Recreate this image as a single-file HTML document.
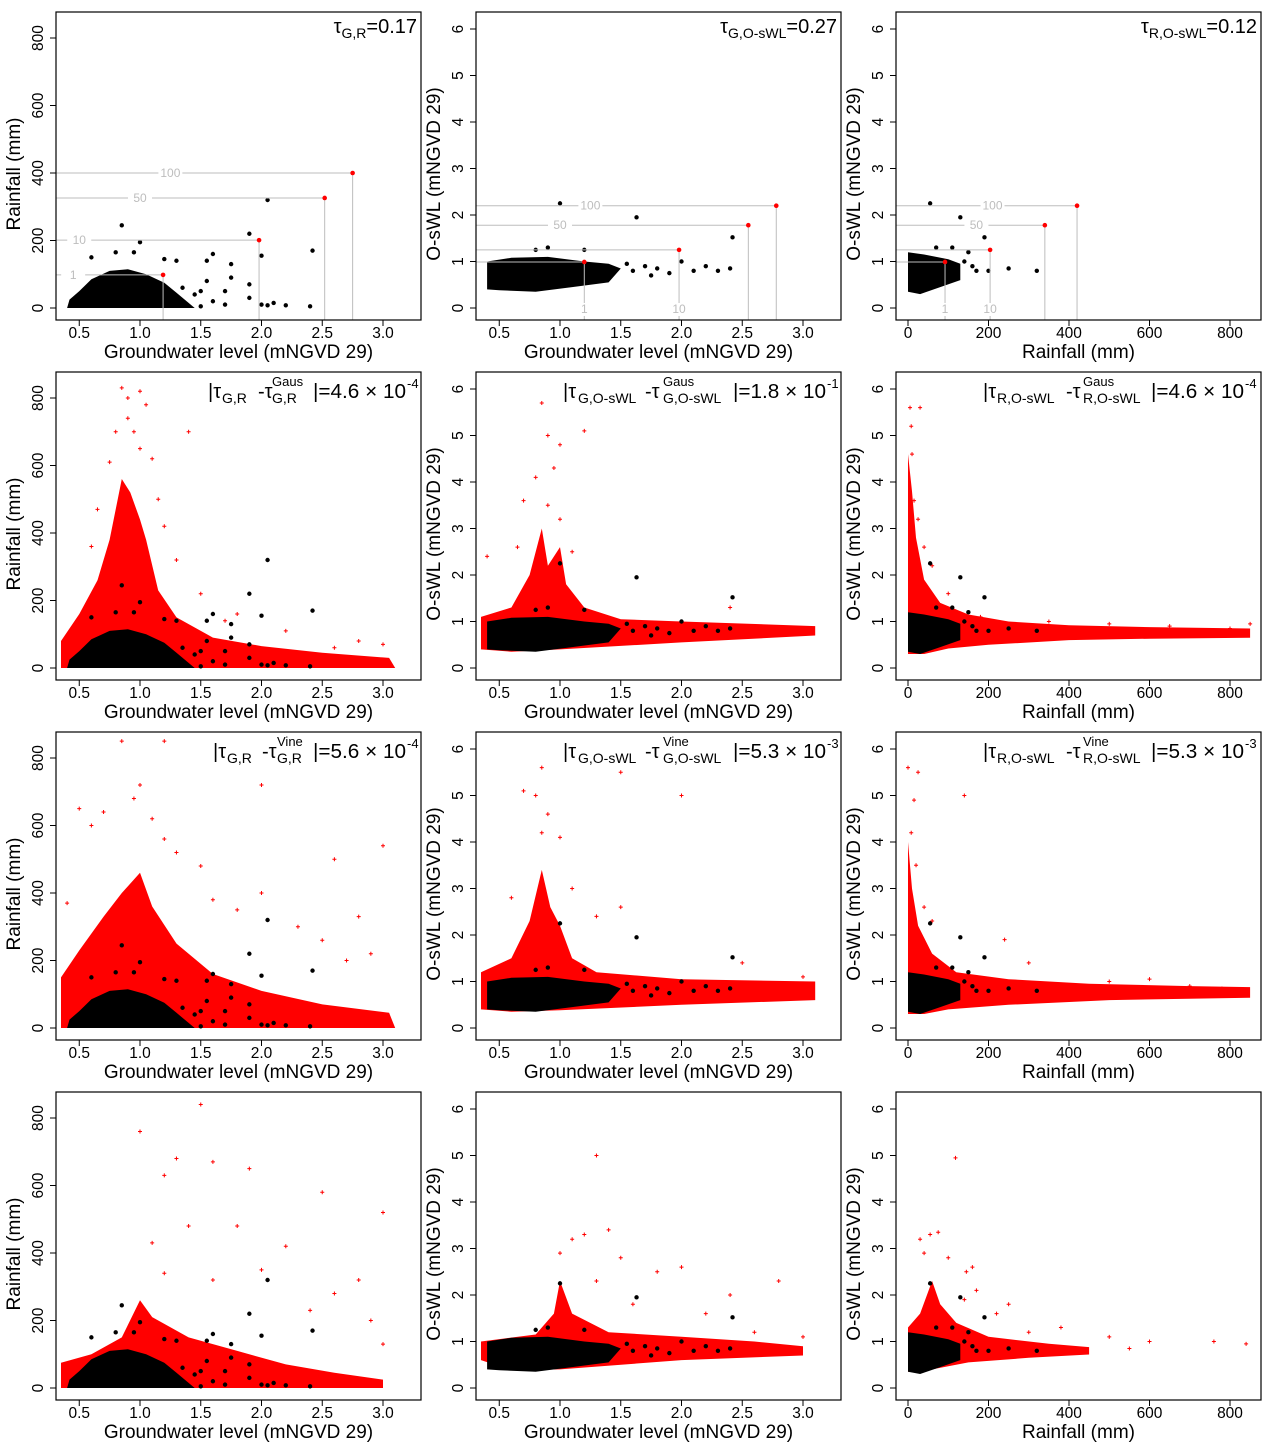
<!DOCTYPE html>
<html><head><meta charset="utf-8"><style>
body{margin:0;background:#fff}
svg{display:block;font-family:"Liberation Sans",Arial,sans-serif}
</style></head><body>
<svg id="c" width="1274" height="1455" viewBox="0 0 1274 1455" xmlns="http://www.w3.org/2000/svg"></svg>
<script>
// ---------- data ----------
const gTicks=[0.5,1.0,1.5,2.0,2.5,3.0];
const gTickLabels=["0.5","1.0","1.5","2.0","2.5","3.0"];
const rTicks=[0,200,400,600,800];
const rTickLabels=["0","200","400","600","800"];
const sTicks=[0,1,2,3,4,5,6];
const sTickLabels=["0","1","2","3","4","5","6"];
// return levels (row 1): [x, y, label, labelOrientation, labelPos]
const rlGR=[[1.19,98,"1","h",0.45],[1.98,201,"10","h",0.5],[2.52,326,"50","h",1.0],[2.75,400,"100","h",1.25]];
const rlGS=[[1.2,0.99,"1","v",0.0],[1.98,1.25,"10","v",0.0],[2.55,1.78,"50","h",1.0],[2.78,2.2,"100","h",1.25]];
const rlRS=[[92,0.99,"1","v",0.0],[204,1.25,"10","v",0.0],[340,1.78,"50","h",170],[420,2.2,"100","h",210]];
// observed (black) cores & outliers
const obsCoreGR=[[0.4,0],[0.42,25],[0.5,50],[0.6,85],[0.75,110],[0.9,115],[1.05,100],[1.2,75],[1.3,45],[1.4,15],[1.45,0]];
const obsPtsGR=[[0.85,245],[1.0,195],[0.95,165],[0.6,150],[0.8,165],[1.2,145],[1.3,140],[1.9,220],[2.05,320],[2.42,170],[1.75,130],[1.75,90],[1.9,70],[1.6,160],[1.55,140],[1.55,80],[2.0,155],[1.5,50],[1.45,40],[1.7,50],[1.6,20],[1.9,30],[2.0,10],[2.2,8],[2.4,5],[1.5,5],[1.7,10],[2.05,8],[2.1,15],[1.35,60]];
const obsCoreGS=[[0.4,0.4],[0.4,1.0],[0.6,1.08],[0.9,1.1],[1.2,1.0],[1.4,0.95],[1.5,0.85],[1.4,0.55],[1.1,0.45],[0.8,0.35],[0.5,0.38]];
const obsPtsGS=[[1.0,2.25],[1.63,1.95],[2.42,1.52],[2.0,1.0],[1.6,0.8],[1.7,0.9],[1.8,0.85],[1.9,0.75],[2.1,0.8],[2.2,0.9],[2.3,0.8],[2.4,0.85],[1.55,0.95],[1.75,0.7],[1.2,1.25],[0.9,1.3],[0.8,1.25]];
const obsCoreRS=[[0,0.35],[0,1.2],[40,1.15],[100,1.05],[130,0.95],[130,0.6],[80,0.45],[30,0.3]];
const obsPtsRS=[[55,2.25],[130,1.95],[190,1.52],[150,1.2],[160,0.9],[170,0.8],[200,0.8],[250,0.85],[320,0.8],[140,1.0],[110,1.3],[70,1.3]];
// simulated (red) clouds: row 2 = Gaussian, row 3 = Vine, row 4 = third model
const simGR=[
 [[0.35,0],[0.35,80],[0.5,160],[0.65,260],[0.75,380],[0.85,560],[0.92,520],[1.0,440],[1.05,380],[1.15,230],[1.3,150],[1.6,90],[2.0,65],[2.5,45],[3.05,30],[3.1,0]],
 [[0.35,0],[0.35,150],[0.5,230],[0.7,330],[0.85,400],[1.0,460],[1.1,360],[1.3,250],[1.6,160],[2.0,110],[2.5,70],[3.05,45],[3.1,0]],
 [[0.35,0],[0.35,75],[0.6,100],[0.85,150],[1.0,260],[1.1,210],[1.4,150],[1.8,110],[2.2,70],[2.6,45],[3.0,25],[3.0,0]]];
const simPtsGR=[
 [[0.85,830],[0.9,800],[1.05,780],[0.8,700],[1.0,650],[0.75,610],[1.1,620],[0.95,700],[1.4,700],[1.2,420],[1.3,320],[0.6,360],[1.5,220],[1.8,160],[2.2,110],[2.8,80],[3.0,70],[0.65,470],[0.9,740],[1.0,820],[1.15,500],[2.6,60],[1.7,140]],
 [[0.85,850],[1.2,850],[1.0,720],[0.95,680],[2.0,720],[0.5,650],[0.7,640],[0.6,600],[1.3,520],[1.5,480],[2.6,500],[3.0,540],[2.8,330],[2.5,260],[1.8,350],[2.3,300],[2.0,400],[1.6,380],[0.4,370],[1.2,560],[2.9,220],[2.7,200],[1.1,620]],
 [[1.5,840],[1.0,760],[1.2,630],[1.3,680],[1.6,670],[1.9,650],[2.5,580],[3.0,520],[2.8,320],[2.2,420],[1.8,480],[1.4,480],[1.1,430],[2.0,350],[2.6,280],[1.6,320],[2.9,200],[1.2,340],[3.0,130],[2.4,230]]];
const simGS=[
 [[0.35,0.4],[0.35,1.1],[0.6,1.3],[0.75,2.0],[0.85,3.0],[0.9,2.2],[1.0,2.6],[1.05,1.8],[1.2,1.3],[1.5,1.05],[2.0,1.0],[3.1,0.9],[3.1,0.7],[2.0,0.55],[1.0,0.4],[0.6,0.35]],
 [[0.35,0.4],[0.35,1.2],[0.6,1.5],[0.75,2.3],[0.85,3.4],[0.92,2.6],[1.0,2.2],[1.1,1.5],[1.3,1.2],[2.0,1.05],[3.1,1.0],[3.1,0.6],[2.0,0.5],[1.0,0.38],[0.6,0.35]],
 [[0.35,0.6],[0.35,1.0],[0.8,1.15],[0.95,1.6],[1.0,2.3],[1.1,1.6],[1.4,1.2],[2.0,1.1],[2.6,1.0],[3.0,0.9],[3.0,0.7],[2.0,0.6],[1.0,0.4],[0.6,0.38]]];
const simPtsGS=[
 [[0.85,5.7],[1.2,5.1],[0.9,5.0],[0.95,4.3],[0.8,4.1],[0.7,3.6],[0.9,3.5],[1.0,3.2],[0.65,2.6],[0.4,2.4],[1.0,4.8],[1.1,2.5],[2.4,1.3]],
 [[0.85,5.6],[0.7,5.1],[0.8,5.0],[1.5,5.5],[2.0,5.0],[0.9,4.6],[1.0,4.1],[0.85,4.2],[1.1,3.0],[1.5,2.6],[0.6,2.8],[1.3,2.4],[2.5,1.4],[3.0,1.1]],
 [[1.3,5.0],[1.2,3.3],[1.4,3.4],[1.1,3.2],[1.0,2.9],[1.5,2.8],[1.8,2.5],[2.0,2.6],[1.3,2.3],[2.4,2.0],[2.8,2.3],[1.6,1.8],[2.2,1.6],[2.6,1.2],[3.0,1.1]]];
const simRS=[
 [[0,0.3],[0,4.6],[10,3.8],[20,2.8],[40,1.9],[80,1.4],[150,1.15],[250,1.0],[400,0.92],[600,0.88],[850,0.85],[850,0.65],[600,0.63],[400,0.6],[200,0.5],[100,0.42],[40,0.3]],
 [[0,0.3],[0,4.0],[10,3.0],[25,2.2],[60,1.6],[120,1.2],[250,1.05],[450,0.95],[700,0.9],[850,0.88],[850,0.65],[500,0.6],[250,0.5],[100,0.4],[40,0.3]],
 [[0,0.35],[0,1.3],[30,1.6],[60,2.3],[80,1.8],[120,1.4],[200,1.1],[350,0.95],[450,0.88],[450,0.72],[300,0.65],[150,0.55],[60,0.4],[20,0.35]]];
const simPtsRS=[
 [[5,5.6],[30,5.6],[8,5.2],[10,4.6],[15,3.6],[25,3.2],[40,2.6],[60,2.2],[100,1.6],[180,1.1],[350,1.0],[500,0.95],[650,0.9],[800,0.85],[850,0.95],[700,0.7],[560,0.75]],
 [[0,5.6],[25,5.5],[15,4.9],[8,4.2],[20,3.5],[40,2.6],[60,2.3],[140,5.0],[240,1.9],[300,1.4],[500,1.0],[600,1.05],[700,0.9],[780,0.85],[840,0.8],[820,0.78],[560,0.7]],
 [[118,4.95],[55,3.3],[75,3.35],[30,3.2],[40,2.9],[100,2.8],[160,2.6],[145,2.5],[140,1.9],[250,1.8],[220,1.6],[380,1.3],[500,1.1],[600,1.0],[760,1.0],[840,0.95],[550,0.85],[300,1.2],[170,2.1]]];

// ---------- layout ----------
const svg=document.getElementById('c');
const NS='http://www.w3.org/2000/svg';
function mk(tag,attrs,parent,name,txt){const e=document.createElementNS(NS,tag);for(const k in attrs)e.setAttribute(k,attrs[k]);
 
 
 if(txt!==undefined)e.textContent=txt;(parent||svg).appendChild(e);return e;}
const colLeft=[56,476,896],rowTop=[12,372,732,1092],BW=365,BH=308;
function xScale(col,v){const L=colLeft[col];return col===2?L+12+0.4025*v:L+v*121.5-37.5;}
function yScale(col,row,v){const T=rowTop[row];return col===0?T+296-0.3375*v:T+296-46.5*v;}
const colX=[[gTicks,gTickLabels,"Groundwater level (mNGVD 29)"],[gTicks,gTickLabels,"Groundwater level (mNGVD 29)"],[rTicks,rTickLabels,"Rainfall (mm)"]];
const colY=[[rTicks,rTickLabels,"Rainfall (mm)"],[sTicks,sTickLabels,"O-sWL (mNGVD 29)"],[sTicks,sTickLabels,"O-sWL (mNGVD 29)"]];
const simAreas=[simGR,simGS,simRS],simPts=[simPtsGR,simPtsGS,simPtsRS];
const obsCores=[obsCoreGR,obsCoreGS,obsCoreRS],obsPts=[obsPtsGR,obsPtsGS,obsPtsRS];
const rls=[rlGR,rlGS,rlRS];

function poly(col,row,arr,fill,g,name){
 const p=arr.map(d=>xScale(col,d[0]).toFixed(1)+','+yScale(col,row,d[1]).toFixed(1)).join(' ');
 mk('polygon',{points:p,fill:fill},g,name);}
function dots(col,row,arr,color,g,name,cross){
 arr.forEach(d=>{const x=xScale(col,d[0]),y=yScale(col,row,d[1]);
  if(cross){mk('path',{d:`M${x-2},${y}h4M${x},${y-2}v4`,stroke:color,'stroke-width':1},g,name);}
  else mk('circle',{cx:x,cy:y,r:2.2,fill:color},g,name);});}

for(let row=0;row<4;row++)for(let col=0;col<3;col++){
 const L=colLeft[col],T=rowTop[row];
 const g=mk('g',{},svg,`panel-r${row+1}-c${col+1}`);
 if(row>0){
  poly(col,row,simAreas[col][row-1],'#ff0000',g,'simulated-cloud');
  dots(col,row,simPts[col][row-1],'#ff0000',g,'simulated-point',true);
 }
 poly(col,row,obsCores[col],'#000',g,'observed-cloud');
 dots(col,row,obsPts[col],'#000',g,'observed-point',false);
 if(row===0){
  rls[col].forEach(r=>{
   const x=xScale(col,r[0]),y=yScale(col,row,r[1]);
   mk('line',{x1:L,y1:y,x2:x,y2:y,stroke:'#bdbdbd','stroke-width':1},g,'return-level-hline');
   mk('line',{x1:x,y1:y,x2:x,y2:T+BH,stroke:'#bdbdbd','stroke-width':1},g,'return-level-vline');
   mk('circle',{cx:x,cy:y,r:2.3,fill:'#ff0000'},g,'return-level-point');
   let lx,ly;
   if(r[3]==='h'){lx=xScale(col,r[4]);ly=y+4;}else{lx=x;ly=T+BH-7;}
   mk('rect',{x:lx-12,y:ly-10,width:24,height:13,fill:'#fff'},g,'return-label-bg');
   mk('text',{x:lx,y:ly,'text-anchor':'middle','font-size':12,fill:'#bdbdbd'},g,'return-period-label',r[2]);
  });
 }
 mk('rect',{x:L,y:T,width:BW,height:BH,fill:'none',stroke:'#000','stroke-width':1.2},g,'plot-frame');
 const [xt,xl,xtitle]=colX[col];
 xt.forEach((v,i)=>{const x=xScale(col,v);
  mk('line',{x1:x,y1:T+BH,x2:x,y2:T+BH+6,stroke:'#000'},g,'x-tick');
  mk('text',{x:x,y:T+BH+18,'text-anchor':'middle','font-size':15.5},g,'x-tick-label',xl[i]);});
 mk('text',{x:L+BW/2,y:T+BH+38,'text-anchor':'middle','font-size':19},g,'x-axis-title',xtitle);
 const [yt,yl,ytitle]=colY[col];
 yt.forEach((v,i)=>{const y=yScale(col,row,v);
  mk('line',{x1:L-6,y1:y,x2:L,y2:y,stroke:'#000'},g,'y-tick');
  mk('text',{x:L-13,y:y,'text-anchor':'middle','font-size':15.5,transform:`rotate(-90 ${L-13} ${y})`},g,'y-tick-label',yl[i]);});
 const ty=T+BH/2+8;
 mk('text',{x:L-36,y:ty,'text-anchor':'middle','font-size':19,transform:`rotate(-90 ${L-36} ${ty})`},g,'y-axis-title',ytitle);
}

// ---------- annotations ----------
const tauNames=["G,R","G,O-sWL","R,O-sWL"];
const tauVals=["0.17","0.27","0.12"];
function txt(x,y,s,size,name){return mk('text',{x:x,y:y,'font-size':size},svg,name,s);}
for(let col=0;col<3;col++){
 const R=colLeft[col]+BW;
 const t=mk('text',{x:R-4,y:rowTop[0]+21,'text-anchor':'end','font-size':20},svg,'kendall-tau-label');
 mk('tspan',{},t,'tau-symbol','τ');
 mk('tspan',{dy:5,'font-size':14},t,'tau-subscript',tauNames[col]);
 mk('tspan',{dy:-5},t,'tau-value','='+tauVals[col]);
}
const diffVals=[["4.6","-4","1.8","-1","4.6","-4"],["5.6","-4","5.3","-3","5.3","-3"]];
const models=["Gaus","Vine"];
// offsets relative to panel left: [|tau, subscript, -tau, superscript/subscript, |=value]
const annOff=[[[152,166,202,216,257],[87,102,169,187,257],[87,101,170,187,255]],
              [[157,171,206,221,257],[87,102,169,187,257],[87,101,170,187,255]]];
for(let r=0;r<2;r++)for(let col=0;col<3;col++){
 const T=rowTop[r+1],L=colLeft[col];
 const o=annOff[r][col];
 txt(L+o[0],T+26,'|τ',20,'tau-observed');
 txt(L+o[1],T+31,tauNames[col],14,'tau-observed-subscript');
 txt(L+o[2],T+26,'-τ',20,'tau-model');
 txt(L+o[3],T+14,models[r],13,'model-name-superscript');
 txt(L+o[3],T+31,tauNames[col],14,'tau-model-subscript');
 mk('text',{x:L+o[4],y:T+26,'font-size':20,textLength:93,lengthAdjust:'spacingAndGlyphs'},svg,'difference-value',`|=${diffVals[r][col*2]} × 10`);
 txt(L+o[4]+94,T+16,diffVals[r][col*2+1],13,'difference-exponent');
}
</script>
</body></html>
